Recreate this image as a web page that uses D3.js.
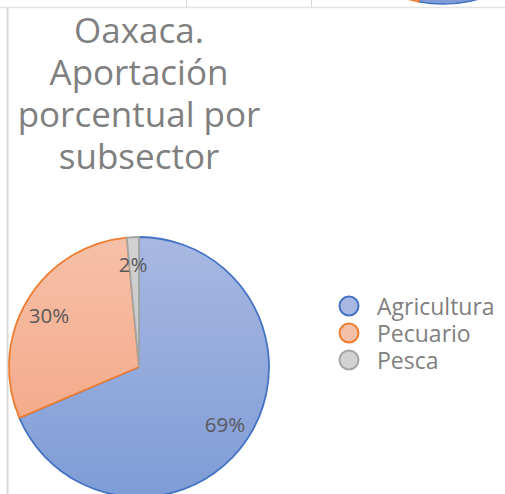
<!DOCTYPE html>
<html>
<head>
	<meta charset="utf-8">
	<style>
		body { margin: 0; background: #fff; }
		svg { display: block; font-family: "Open Sans", "Noto Sans", sans-serif; }
	</style>
	<script src="https://cdn.jsdelivr.net/npm/d3@7"></script>
</head>
<body>
<div id="chart"></div>
<script>
	// datos
	var subsectores = ["Agricultura", "Pecuario", "Pesca"]
	var valores = [68.6, 29.9, 1.5]
	var etiquetas = ["69%", "30%", "2%"]
	var titulo = ["Oaxaca.", "Aportación", "porcentual por", "subsector"]
	// grafica vecina (solo se ve el borde inferior)
	var valoresVecina = [53, 45, 2]

	var W = 505, H = 494
	var relleno = [["#a8b8e2", "#7f9cd6"], ["#f6c0a8", "#f3a27f"], ["#d2d2d2", "#bdbdbd"]]
	var borde = ["#4472c4", "#ed7d31", "#a5a5a5"]

	var svg = d3.select("#chart").append("svg").attr("width", W).attr("height", H)

	var R = 130, cx = 139, cy = 367
	var defs = svg.append("defs")
	relleno.forEach(function(c, i){
		var g = defs.append("linearGradient").attr("id", "grad" + i)
			.attr("gradientUnits", "userSpaceOnUse")
			.attr("x1", 0).attr("y1", -R).attr("x2", 0).attr("y2", R)
		g.append("stop").attr("offset", "0%").attr("stop-color", c[0])
		g.append("stop").attr("offset", "100%").attr("stop-color", c[1])
	})

	// marco de la hoja
	svg.append("line").attr("x1", 0).attr("x2", W).attr("y1", 7.5).attr("y2", 7.5)
		.attr("stroke", "#e3e3e3").attr("stroke-width", 1.5)
	svg.append("line").attr("x1", 7.5).attr("x2", 7.5).attr("y1", 7.5).attr("y2", H)
		.attr("stroke", "#d9d9d9").attr("stroke-width", 2)
	;[186.5, 311.5].forEach(function(x){
		svg.append("line").attr("x1", x).attr("x2", x).attr("y1", 0).attr("y2", 7)
			.attr("stroke", "#d9d9d9")
	})

	var pie = d3.pie().sort(null).value(function(d){ return d })
	var arc = d3.arc().innerRadius(0).outerRadius(R)

	// grafica vecina arriba a la derecha
	var clip = defs.append("clipPath").attr("id", "clipTop")
	clip.append("rect").attr("x", 320).attr("y", 0).attr("width", 185).attr("height", 6.5)
	svg.append("g").attr("clip-path", "url(#clipTop)")
		.append("g").attr("transform", "translate(443,-126)")
		.selectAll("path").data(pie(valoresVecina)).enter().append("path")
		.attr("d", arc).attr("fill", function(d, i){ return relleno[i][1] })
		.attr("stroke", function(d, i){ return borde[i] }).attr("stroke-width", 1.5)

	// titulo
	svg.append("g").selectAll("text").data(titulo).enter().append("text")
		.attr("x", 139).attr("y", function(d, i){ return 43 + i * 42 })
		.attr("text-anchor", "middle").attr("fill", "#7f7f7f")
		.attr("font-size", 35).text(function(d){ return d })

	// pastel
	var g = svg.append("g").attr("transform", "translate(" + cx + "," + cy + ")")
	g.selectAll("path").data(pie(valores)).enter().append("path")
		.attr("d", arc)
		.attr("fill", function(d, i){ return "url(#grad" + i + ")" })
		.attr("stroke", function(d, i){ return borde[i] })
		.attr("stroke-width", 1.8).attr("stroke-linejoin", "round")

	var posEtq = [[225, 432], [49, 323], [133, 272]]
	g.selectAll("text").data(etiquetas).enter().append("text")
		.attr("x", function(d, i){ return posEtq[i][0] - cx })
		.attr("y", function(d, i){ return posEtq[i][1] - cy })
		.attr("text-anchor", "middle").attr("fill", "#595959")
		.attr("font-size", 20.5).text(function(d){ return d })

	// leyenda
	var ley = svg.append("g").attr("transform", "translate(349,306)")
	var filas = ley.selectAll("g").data(subsectores).enter().append("g")
		.attr("transform", function(d, i){ return "translate(0," + (i * 27) + ")" })
	filas.append("circle").attr("r", 9.5)
		.attr("fill", function(d, i){ return relleno[i][0] })
		.attr("stroke", function(d, i){ return borde[i] }).attr("stroke-width", 2)
	filas.append("text").attr("x", 28).attr("y", 9)
		.attr("fill", "#7f7f7f").attr("font-size", 23)
		.text(function(d){ return d })
</script>
</body>
</html>
